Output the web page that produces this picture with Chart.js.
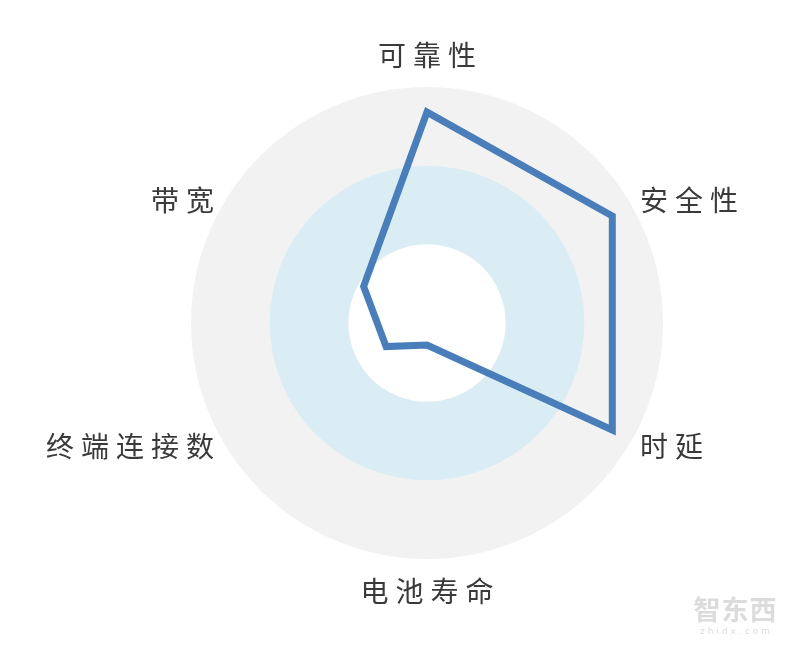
<!DOCTYPE html>
<html>
<head>
<meta charset="utf-8">
<script src="https://cdn.jsdelivr.net/npm/chart.js@4.4.1/dist/chart.umd.min.js"></script>
<style>
  html, body { margin: 0; padding: 0; background: #ffffff; }
  #wrap { width: 800px; height: 651px; position: relative; }
</style>
</head>
<body>
<div id="wrap"><canvas id="c" width="800" height="651"></canvas></div>
<script>
// ---- data ----
const categories = ['可靠性', '安全性', '时延', '电池寿命', '终端连接数', '带宽'];
const seriesValues = [2.68, 2.72, 2.72, 0.28, 0.6, 0.93];
const ringLevels = [3, 2, 1];
const ringColors = ['#f2f2f2', '#dbedf4', '#ffffff'];
const watermarkText = '智东西';
const watermarkSub = 'zhidx.com';

const ringPlugin = {
  id: 'rings',
  beforeDatasetsDraw(chart) {
    const s = chart.scales.r;
    const ctx = chart.ctx;
    ctx.save();
    ringLevels.forEach((v, i) => {
      ctx.beginPath();
      ctx.arc(s.xCenter, s.yCenter, s.getDistanceFromCenterForValue(v), 0, Math.PI * 2);
      ctx.fillStyle = ringColors[i];
      ctx.fill();
    });
    ctx.restore();
  }
};

function drawSpaced(ctx, text, x, y, align, ls) {
  const chars = Array.from(text);
  const widths = chars.map(c => ctx.measureText(c).width);
  const total = widths.reduce((a, b) => a + b, 0) + ls * (chars.length - 1);
  let start = x;
  if (align === 'right') start = x - total;
  else if (align === 'center') start = x - total / 2;
  ctx.textAlign = 'left';
  chars.forEach((c, i) => {
    ctx.fillText(c, start, y);
    start += widths[i] + ls;
  });
}

const labelPlugin = {
  id: 'labels',
  afterDraw(chart) {
    const s = chart.scales.r;
    const ctx = chart.ctx;
    ctx.save();
    ctx.font = '28px "Noto Sans CJK SC", sans-serif';
    ctx.fillStyle = '#3a3a3a';
    ctx.textBaseline = 'middle';
    const n = categories.length;
    categories.forEach((lab, i) => {
      const ang = (360 / n) * i;
      let align, dist;
      if (ang === 0 || ang === 180) { align = 'center'; dist = s.drawingArea + 32; }
      else if (ang < 180) { align = 'left'; dist = s.drawingArea + 10; }
      else { align = 'right'; dist = s.drawingArea + 10; }
      const p = s.getPointPosition(i, dist);
      drawSpaced(ctx, lab, p.x, p.y, align, 7);
    });
    // watermark
    ctx.fillStyle = '#dcdcdc';
    ctx.font = 'bold 27px "Noto Sans CJK SC", sans-serif';
    drawSpaced(ctx, watermarkText, 735, 610, 'center', 1);
    ctx.font = '9px "DejaVu Sans", sans-serif';
    drawSpaced(ctx, watermarkSub, 735, 632, 'center', 3);
    ctx.restore();
  }
};

new Chart(document.getElementById('c'), {
  type: 'radar',
  data: {
    labels: categories,
    datasets: [{
      data: seriesValues,
      borderColor: '#4a7ebb',
      borderWidth: 7,
      backgroundColor: 'rgba(0,0,0,0)',
      fill: false,
      pointRadius: 0,
      pointHoverRadius: 0,
      tension: 0,
      borderJoinStyle: 'miter'
    }]
  },
  options: {
    responsive: false,
    animation: false,
    devicePixelRatio: 1,
    layout: { padding: { left: 191, right: 137, top: 87, bottom: 92 } },
    plugins: { legend: { display: false }, tooltip: { enabled: false } },
    scales: {
      r: {
        min: 0,
        max: 3,
        ticks: { display: false, stepSize: 1 },
        grid: { display: false },
        angleLines: { display: false },
        pointLabels: { display: false }
      }
    }
  },
  plugins: [ringPlugin, labelPlugin]
});
</script>
</body>
</html>
